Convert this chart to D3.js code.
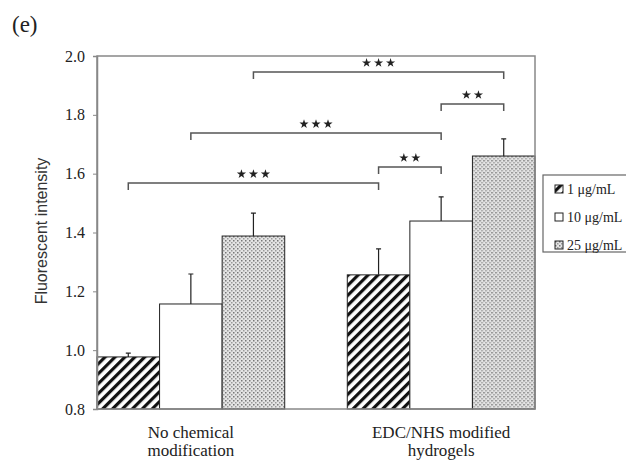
<!DOCTYPE html>
<html>
<head>
<meta charset="utf-8">
<script src="https://cdn.jsdelivr.net/npm/d3@7"></script>
<style>
body { margin: 0; background: #fff; }
svg { display: block; }
.serif { font-family: "Liberation Serif", "Times New Roman", "DejaVu Serif", serif; }
.sans { font-family: "Liberation Sans", Arial, sans-serif; }
</style>
</head>
<body>
<svg width="626" height="463"></svg>
<script>

var groups = ["No chemical modification", "EDC/NHS modified hydrogels"];
var groupLines = [["No chemical", "modification"], ["EDC/NHS modified", "hydrogels"]];
var doses = ["1 μg/mL", "10 μg/mL", "25 μg/mL"];
var means = [[0.977, 1.157, 1.388], [1.256, 1.439, 1.660]];
var errs = [[0.013, 0.102, 0.078], [0.088, 0.082, 0.058]];
var yTicks = [0.8, 1.0, 1.2, 1.4, 1.6, 1.8, 2.0];
// brackets: [group, dose] -> [group, dose], level, stars
var brackets = [
  {from: [0, 2], to: [1, 2], level: 1.946, stars: 3},
  {from: [1, 1], to: [1, 2], level: 1.837, stars: 2},
  {from: [0, 1], to: [1, 1], level: 1.738, stars: 3},
  {from: [1, 0], to: [1, 1], level: 1.623, stars: 2},
  {from: [0, 0], to: [1, 0], level: 1.568, stars: 3}
];

var svg = d3.select("svg"),
    margin = {top: 56, left: 97, right: 91, bottom: 54},
    width = 626 - margin.left - margin.right,
    height = 463 - margin.top - margin.bottom;

var defs = svg.append("defs");

var hatch = defs.append("pattern")
    .attr("id", "hatch")
    .attr("patternUnits", "userSpaceOnUse")
    .attr("width", 7).attr("height", 7)
    .attr("patternTransform", "rotate(45)");
hatch.append("rect").attr("width", 7).attr("height", 7).attr("fill", "#fff");
hatch.append("rect").attr("x", 0).attr("width", 3.2).attr("height", 7).attr("fill", "#111");

var dots = defs.append("pattern")
    .attr("id", "dots")
    .attr("patternUnits", "userSpaceOnUse")
    .attr("width", 4).attr("height", 4);
dots.append("rect").attr("width", 4).attr("height", 4).attr("fill", "#e4e4e4");
dots.append("rect").attr("x", 0).attr("y", 0).attr("width", 1.5).attr("height", 1.5).attr("fill", "#777");
dots.append("rect").attr("x", 2).attr("y", 2).attr("width", 1.5).attr("height", 1.5).attr("fill", "#999");

var fills = ["url(#hatch)", "#fff", "url(#dots)"];

var g = svg.append("g")
    .attr("transform", "translate(" + margin.left + "," + margin.top + ")");

var x0 = d3.scaleBand().domain(groups).range([0, width]).paddingInner(0.25).paddingOuter(0);
var x1 = d3.scaleBand().domain(doses).range([0, x0.bandwidth()]);
var y = d3.scaleLinear().domain([0.8, 2.0]).range([height, 0]);

function cx(gi, di) {
  return x0(groups[gi]) + x1(doses[di]) + x1.bandwidth() / 2;
}

// bars
var grp = g.selectAll(".grp")
    .data(groups)
  .enter().append("g")
    .attr("class", "grp")
    .attr("transform", function(d) { return "translate(" + x0(d) + ",0)"; });

grp.selectAll("rect")
    .data(function(d, i) { return doses.map(function(s, j) { return {dose: s, v: means[i][j], e: errs[i][j], j: j}; }); })
  .enter().append("rect")
    .attr("x", function(d) { return x1(d.dose); })
    .attr("y", function(d) { return y(d.v); })
    .attr("width", x1.bandwidth())
    .attr("height", function(d) { return height - y(d.v); })
    .attr("fill", function(d) { return fills[d.j]; })
    .attr("stroke", "#222")
    .attr("stroke-width", 1);

// error bars
grp.selectAll(".err")
    .data(function(d, i) { return doses.map(function(s, j) { return {dose: s, v: means[i][j], e: errs[i][j]}; }); })
  .enter().append("path")
    .attr("class", "err")
    .attr("fill", "none")
    .attr("stroke", "#222")
    .attr("stroke-width", 1.2)
    .attr("d", function(d) {
      var c = x1(d.dose) + x1.bandwidth() / 2;
      return "M" + c + "," + y(d.v) + "V" + y(d.v + d.e) + "M" + (c - 2.5) + "," + y(d.v + d.e) + "H" + (c + 2.5);
    });

// frame and axes
g.append("rect")
    .attr("width", width).attr("height", height)
    .attr("fill", "none").attr("stroke", "#888").attr("stroke-width", 1.5);

var yAxis = g.append("g")
    .call(d3.axisLeft(y).tickValues(yTicks).tickFormat(d3.format(".1f")).tickSize(4).tickPadding(8));
yAxis.attr("font-family", null);
yAxis.select(".domain").attr("stroke", "#888").attr("stroke-width", 1.5);
yAxis.selectAll(".tick line").attr("stroke", "#888");
yAxis.selectAll("text")
    .attr("class", "serif")
    .attr("font-size", 16)
    .attr("fill", "#222");

g.append("text")
    .attr("class", "sans")
    .attr("transform", "rotate(-90)")
    .attr("x", -175)
    .attr("y", -50)
    .attr("text-anchor", "middle")
    .attr("font-size", 16)
    .attr("fill", "#333")
    .text("Fluorescent intensity");

// category labels
var cat = g.selectAll(".cat")
    .data(groups)
  .enter().append("text")
    .attr("class", "cat serif")
    .attr("text-anchor", "middle")
    .attr("font-size", 17)
    .attr("fill", "#222")
    .attr("transform", function(d) { return "translate(" + (x0(d) + x0.bandwidth() / 2) + "," + (height + 29) + ")"; });
cat.selectAll("tspan")
    .data(function(d, i) { return groupLines[i]; })
  .enter().append("tspan")
    .attr("x", 0)
    .attr("dy", function(d, i) { return i ? 18 : 0; })
    .text(function(d) { return d; });

// significance brackets
var star = d3.symbol().type(d3.symbolStar).size(26);
brackets.forEach(function(b) {
  var xa = cx(b.from[0], b.from[1]), xb = cx(b.to[0], b.to[1]), yl = y(b.level);
  g.append("path")
      .attr("fill", "none")
      .attr("stroke", "#555")
      .attr("stroke-width", 1.5)
      .attr("d", "M" + xa + "," + (yl + 7) + "V" + yl + "H" + xb + "V" + (yl + 7));
  var mid = (xa + xb) / 2;
  d3.range(b.stars).forEach(function(k) {
    g.append("path")
        .attr("d", star)
        .attr("fill", "#222")
        .attr("transform", "translate(" + (mid + (k - (b.stars - 1) / 2) * 12) + "," + (yl - 9) + ")");
  });
});

// legend
var leg = svg.append("g").attr("transform", "translate(543,175)");
leg.append("rect")
    .attr("width", 90).attr("height", 77)
    .attr("fill", "#fff").attr("stroke", "#666").attr("stroke-width", 1.2);
var item = leg.selectAll(".item")
    .data(doses)
  .enter().append("g")
    .attr("class", "item")
    .attr("transform", function(d, i) { return "translate(12," + (14 + i * 28) + ")"; });
item.append("rect")
    .attr("y", -4).attr("width", 8).attr("height", 8)
    .attr("fill", function(d, i) { return fills[i]; })
    .attr("stroke", "#222").attr("stroke-width", 1);
item.append("text")
    .attr("class", "serif")
    .attr("x", 12).attr("dy", "0.35em")
    .attr("font-size", 14)
    .attr("fill", "#222")
    .text(function(d) { return d; });

svg.append("text")
    .attr("class", "serif")
    .attr("x", 12).attr("y", 32)
    .attr("font-size", 23)
    .attr("fill", "#222")
    .text("(e)");

</script>
</body>
</html>
